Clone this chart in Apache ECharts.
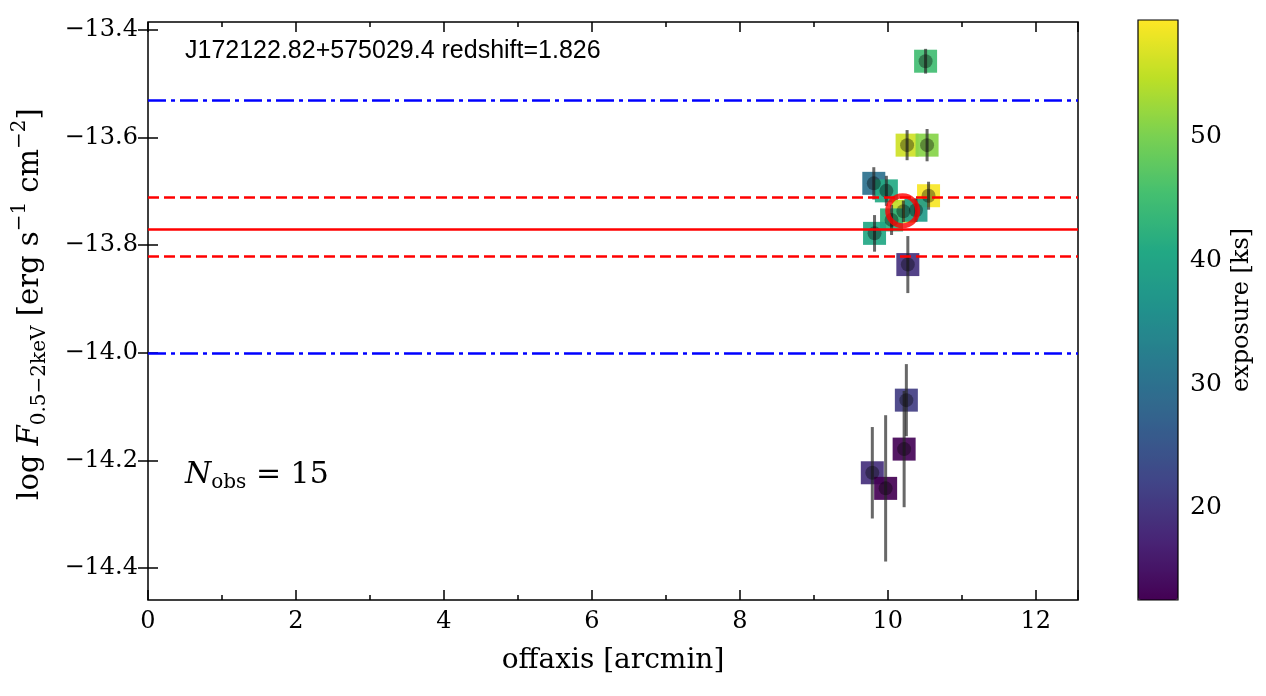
<!DOCTYPE html>
<html>
<head>
<meta charset="utf-8">
<script src="https://cdn.jsdelivr.net/npm/echarts@6/dist/echarts.min.js"></script>
<style>html,body{margin:0;padding:0;background:#fff;}#main{width:1266px;height:696px;}</style>
</head>
<body>
<div id="main"></div>
<script>
// ---- data ----
const offaxis  = [10.51, 10.26, 10.53, 9.81, 9.98, 10.55, 10.21, 10.38, 10.05, 9.82, 10.27, 10.25, 10.22, 9.79, 9.97];
const logFlux  = [-13.458, -13.614, -13.614, -13.685, -13.699, -13.708, -13.737, -13.735, -13.753, -13.778, -13.836, -14.088, -14.179, -14.223, -14.252];
const fluxErr  = [0.023, 0.028, 0.030, 0.030, 0.028, 0.026, 0.020, 0.022, 0.028, 0.034, 0.053, 0.067, 0.108, 0.085, 0.136];
const exposure = [45, 56, 51, 30, 41, 59, 55, 38, 42.5, 40.5, 19.5, 21, 13, 19, 12.6];
const highlight = [10.20, -13.736];
const meanFlux = -13.768;
const meanBand = [-13.710, -13.824];
const limitLines = [-13.532, -14.002];
const yTicks = [-14.4, -14.2, -14.0, -13.8, -13.6, -13.4];
const cbTicks = [20, 30, 40, 50];
const expRange = [12.56, 59.46];
const titleText = 'J172122.82+575029.4 redshift=1.826';
const nObs = 15;

const viridis = ['#440154','#482475','#414487','#355f8d','#2a788e','#21918c','#22a884','#44bf70','#7ad151','#bddf26','#fde725'];
const pts = offaxis.map((x, i) => [x, logFlux[i], exposure[i], fluxErr[i]]);
const serif = 'DejaVu Serif';
const fmtY = v => (v < 0 ? '\u2212' : '') + Math.abs(v).toFixed(1);

const chart = echarts.init(document.getElementById('main'), null, {renderer: 'canvas'});
const tickStyle = {color: '#000', width: 1.5};

const option = {
  animation: false,
  backgroundColor: '#fff',
  grid: [
    {left: 148, top: 22, width: 930, height: 578, show: true, borderColor: '#000', borderWidth: 1.5, backgroundColor: 'transparent', outerBoundsMode: 'none', containLabel: false},
    {left: 1138, top: 20, width: 40, height: 580, show: true, borderColor: '#000', borderWidth: 1.2, backgroundColor: 'transparent', z: 10, outerBoundsMode: 'none', containLabel: false}
  ],
  xAxis: [
    {gridIndex: 0, type: 'value', min: 0, max: 12.57, interval: 2, position: 'bottom',
     axisLine: {show: false}, splitLine: {show: false},
     axisTick: {inside: true, length: 10, lineStyle: tickStyle},
     minorTick: {show: true, splitNumber: 2, length: 5, lineStyle: tickStyle},
     axisLabel: {fontFamily: serif, fontSize: 24, color: '#000', margin: 10, showMaxLabel: false},
     name: 'offaxis [arcmin]', nameLocation: 'middle', nameGap: 47,
     nameTextStyle: {fontFamily: serif, fontSize: 28, color: '#000'}},
    {gridIndex: 0, type: 'value', min: 0, max: 12.57, interval: 2, position: 'top',
     axisLine: {show: false}, splitLine: {show: false},
     axisTick: {inside: true, length: 10, lineStyle: tickStyle},
     minorTick: {show: true, splitNumber: 2, length: 5, lineStyle: tickStyle},
     axisLabel: {show: false}},
    {gridIndex: 1, type: 'value', min: 0, max: 1, show: false}
  ],
  yAxis: [
    {gridIndex: 0, type: 'value', min: -14.4595, max: -13.3851, position: 'left',
     axisLine: {show: false}, splitLine: {show: false},
     axisTick: {inside: true, length: 10, lineStyle: tickStyle, customValues: yTicks},
     axisLabel: {fontFamily: serif, fontSize: 24, color: '#000', margin: 10, customValues: yTicks, formatter: fmtY},
     name: '{g| }{n|log }{i|F}{s|0.5\u22122keV}{n| [erg s}{p|\u22121}{n| cm}{p|\u22122}{n|]}',
     nameLocation: 'middle', nameGap: 92, nameRotate: 90,
     nameTextStyle: {color: '#000', rich: {
       n: {fontFamily: serif, fontSize: 29, color: '#000', lineHeight: 46, verticalAlign: 'middle'},
       i: {fontFamily: serif, fontStyle: 'italic', fontSize: 29, color: '#000', lineHeight: 46, verticalAlign: 'middle'},
       s: {fontFamily: serif, fontSize: 20, color: '#000', lineHeight: 46, verticalAlign: 'bottom', padding: [0,0,4,0]},
       p: {fontFamily: serif, fontSize: 20, color: '#000', lineHeight: 46, verticalAlign: 'top', padding: [2,0,0,0]},
       g: {fontFamily: serif, fontSize: 29, width: 14, lineHeight: 46}
     }}},
    {gridIndex: 0, type: 'value', min: -14.4595, max: -13.3851, position: 'right',
     axisLine: {show: false}, splitLine: {show: false},
     axisTick: {inside: true, length: 10, lineStyle: tickStyle, customValues: yTicks},
     axisLabel: {show: false}},
    {gridIndex: 1, type: 'value', min: expRange[0], max: expRange[1], position: 'right',
     axisLine: {show: false}, splitLine: {show: false},
     axisTick: {inside: false, length: 8, lineStyle: {color: '#000', width: 1.2}, customValues: cbTicks},
     axisLabel: {fontFamily: serif, fontSize: 25, color: '#000', margin: 12, customValues: cbTicks},
     name: 'exposure [ks]', nameLocation: 'middle', nameGap: 52, nameRotate: 90,
     nameTextStyle: {fontFamily: serif, fontSize: 24, color: '#000'}}
  ],
  visualMap: [{
    type: 'continuous', min: expRange[0], max: expRange[1], dimension: 2, seriesIndex: 0,
    inRange: {color: viridis}, calculable: false, hoverLink: false,
    itemWidth: 40, itemHeight: 580, left: 1138, top: 20, padding: 0, text: null,
    orient: 'vertical'
  }],
  series: [
    {type: 'scatter', xAxisIndex: 0, yAxisIndex: 0, data: pts, symbol: 'rect', symbolSize: 23,
     itemStyle: {opacity: 0.92}, z: 2,
     markLine: {silent: true, symbol: 'none', label: {show: false}, animation: false,
       data: [
         {yAxis: meanFlux, lineStyle: {color: '#ff0000', width: 2.5, type: 'solid'}},
         {yAxis: meanBand[0], lineStyle: {color: '#ff0000', width: 2.5, type: [11, 5]}},
         {yAxis: meanBand[1], lineStyle: {color: '#ff0000', width: 2.5, type: [11, 5]}},
         {yAxis: limitLines[0], lineStyle: {color: '#0000ff', width: 2.5, type: [18, 5, 4, 5]}},
         {yAxis: limitLines[1], lineStyle: {color: '#0000ff', width: 2.5, type: [18, 5, 4, 5]}}
       ]}},
    {type: 'custom', xAxisIndex: 0, yAxisIndex: 0, data: pts, z: 3,
     renderItem: function (params, api) {
       const x = api.value(0), y = api.value(1), e = api.value(3);
       const p1 = api.coord([x, y - e]), p2 = api.coord([x, y + e]);
       return {type: 'line', shape: {x1: p1[0], y1: p1[1], x2: p2[0], y2: p2[1]},
               style: {stroke: 'rgba(40,40,40,0.7)', lineWidth: 3}};
     }},
    {type: 'scatter', xAxisIndex: 0, yAxisIndex: 0, data: pts, symbol: 'circle', symbolSize: 14,
     itemStyle: {color: 'rgba(0,0,0,0.45)'}, z: 4},
    {type: 'scatter', xAxisIndex: 0, yAxisIndex: 0, data: [highlight], symbol: 'circle', symbolSize: 30,
     itemStyle: {color: 'rgba(0,0,0,0)', borderColor: '#ff0000', borderWidth: 5}, z: 5},
    {type: 'scatter', xAxisIndex: 2, yAxisIndex: 2, data: [], silent: true}
  ],
  graphic: [
    {type: 'text', left: 185, top: 39, z: 20,
     style: {text: titleText, font: '25px "Liberation Sans"', fill: '#000'}},
    {type: 'text', left: 185, top: 460, z: 20,
     style: {text: '{i|N}{s|obs}{n| = ' + nObs + '}',
       rich: {
         i: {fontFamily: serif, fontStyle: 'italic', fontSize: 30, fill: '#000', lineHeight: 40, verticalAlign: 'middle'},
         s: {fontFamily: serif, fontSize: 20, fill: '#000', lineHeight: 40, verticalAlign: 'bottom', padding: [0,0,2,0]},
         n: {fontFamily: serif, fontSize: 30, fill: '#000', lineHeight: 40, verticalAlign: 'middle'}
       }}}
  ]
};
chart.setOption(option);
</script>
</body>
</html>
